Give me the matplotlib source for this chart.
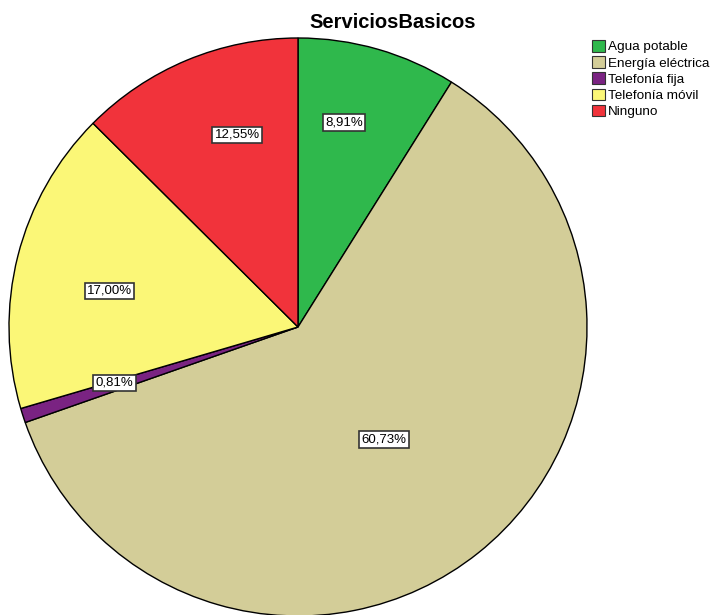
import matplotlib
matplotlib.use("Agg")
import matplotlib.pyplot as plt
import matplotlib.patches as mpatches
import numpy as np

plt.rcParams['font.family'] = ['Liberation Sans', 'DejaVu Sans']

title = "ServiciosBasicos"
categories = ["Agua potable", "Energía eléctrica", "Telefonía fija", "Telefonía móvil", "Ninguno"]
percentages = [8.91, 60.73, 0.81, 17.00, 12.55]
colors = ["#2fb84c", "#d3cd98", "#7a2382", "#fbf777", "#f1333b"]

# label placement per slice: (angle shift from bisector in degrees, radial fraction)
label_shift = [3.3, -1.3, -0.9, 3.4, -5.0]
label_dist = [0.725, 0.491, 0.664, 0.664, 0.697]

fig = plt.figure(figsize=(7.12, 6.15), dpi=100)
W, H = 712, 615
cx, cy, r = 298, 327, 289
ax = fig.add_axes([(cx - r) / W, (H - cy - r) / H, 2 * r / W, 2 * r / H])

wedges, _ = ax.pie(percentages, colors=colors, startangle=90, counterclock=False,
                   radius=1.0, wedgeprops=dict(edgecolor='black', linewidth=1.0))
ax.set_xlim(-1, 1)
ax.set_ylim(-1, 1)
ax.set_aspect('equal')
ax.axis('off')

for w, p, s, d in zip(wedges, percentages, label_shift, label_dist):
    mid = np.deg2rad((w.theta1 + w.theta2) / 2 + s)
    x, y = d * np.cos(mid), d * np.sin(mid)
    ax.text(x, y, f"{p:.2f}%".replace('.', ','), ha='center', va='center', fontsize=9.5,
            bbox=dict(boxstyle='square,pad=0.18', facecolor='white', edgecolor='#333333', linewidth=1.2))

fig.text(393 / W, 1 - 23 / H, title, ha='center', va='center', fontsize=14.5, fontweight='bold')

handles = [mpatches.Patch(facecolor=c, edgecolor='#333333', linewidth=0.8, label=l)
           for c, l in zip(colors, categories)]
fig.legend(handles=handles, loc='upper left', bbox_to_anchor=(592 / W, 1 - 40 / H),
           frameon=False, fontsize=9.7, handlelength=0.96, handleheight=0.96,
           handletextpad=0.25, labelspacing=0.2, borderpad=0, borderaxespad=0)

fig.savefig("out.png", dpi=100)
